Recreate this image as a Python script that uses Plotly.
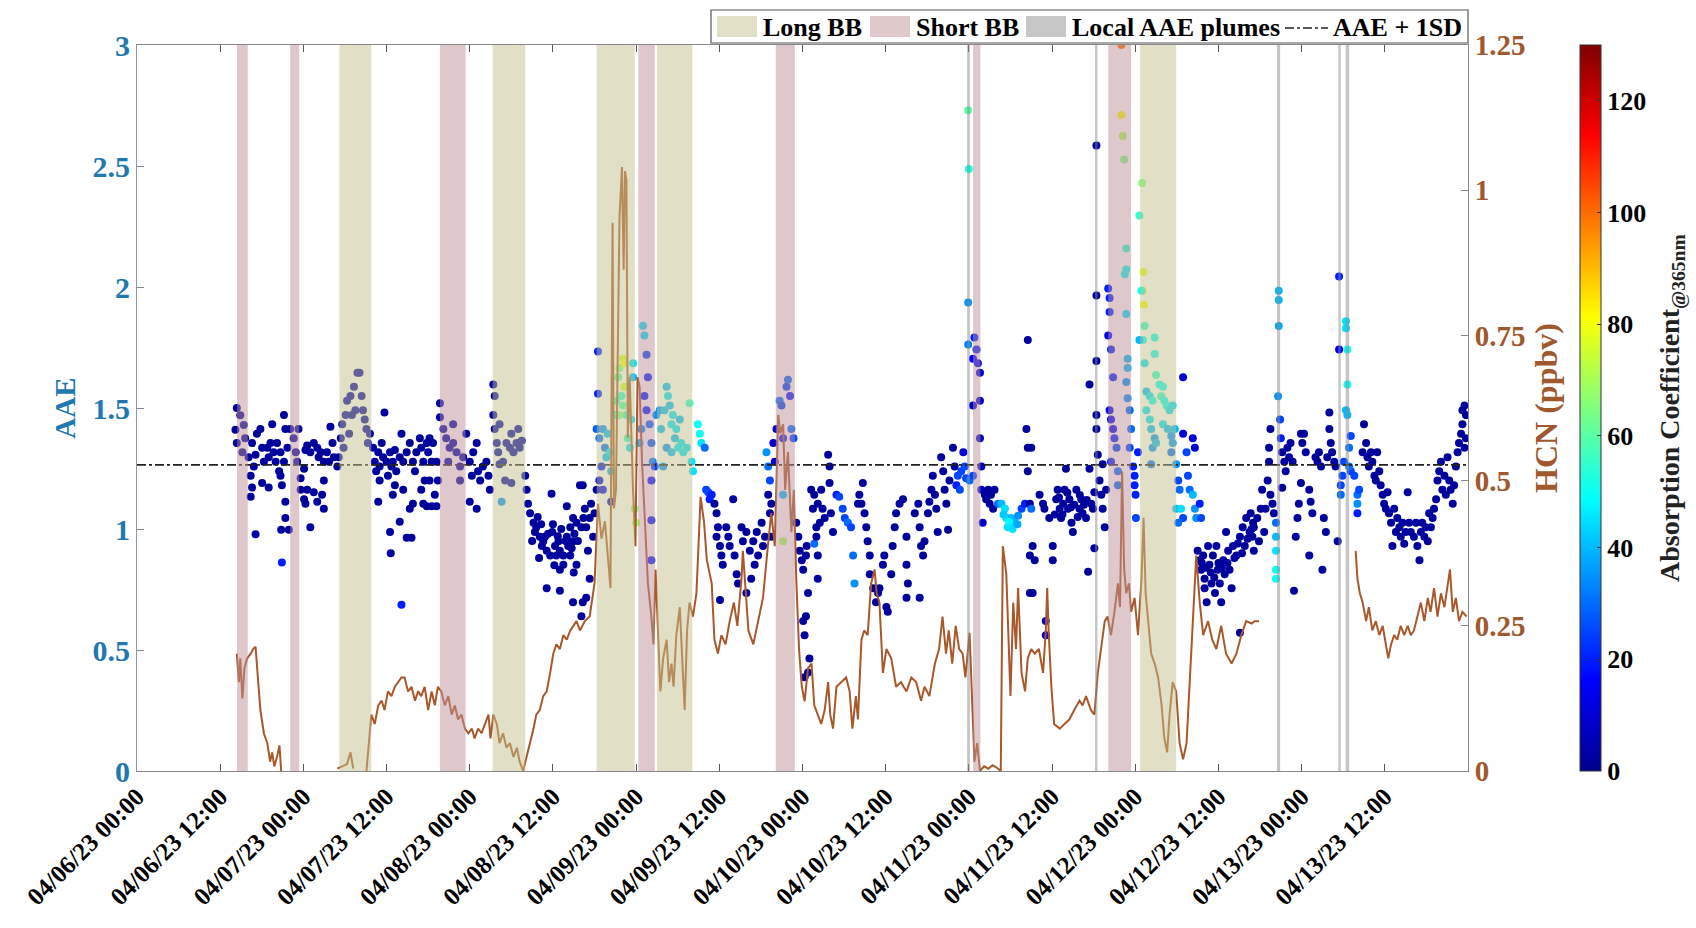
import pandas as pd
import plotly.graph_objects as go

START = pd.Timestamp("2023-04-06 00:00")

# ---------------- AAE scatter data (hours after 04/06/23 00:00, AAE, absorption coeff @365nm) -------------
hours_a = [14.4,14.9,14.2,15.4,14.4,15.6,15.2,16.1,16.6,16.85,
           16.4,17.1,17.3,17.8,18.05,18.3,18.8,19.0,19.25,19.5,
           19.7,20.0,20.2,20.5,20.7,21.2,21.4,21.7,21.2,20.9,
           16.6,18.05,19.0,16.4,17.1,21.4,21.4,20.8,21.9,20.9,
           20.7,22.1,22.6,22.9,23.1,23.3,23.6,24.1,24.3,24.55,
           25.0,25.5,26.0,26.2,26.5,26.95,27.4,27.9,28.2,28.4,
           28.9,29.1,24.55,24.1,24.3,25.5,26.0,26.7,26.95,25.0,
           23.6,26.95,27.7,29.4,29.6,30.1,30.3,30.8,31.3,31.8,
           31.5,29.8,31.0,30.6]
aae_a = [1.50,1.47,1.41,1.43,1.355,1.375,1.317,1.297,1.355,1.258,
         1.22,1.307,1.394,1.413,1.336,1.278,1.336,1.297,1.355,1.433,
         1.317,1.278,1.355,1.239,1.317,1.471,1.413,1.336,1.278,1.181,
         1.171,1.19,1.171,1.133,0.978,1.113,1.045,0.997,0.997,0.862,
         1.22,1.413,1.375,1.317,1.278,1.413,1.21,1.249,1.326,1.345,
         1.317,1.355,1.336,1.297,1.317,1.278,1.317,1.423,1.355,1.297,
         1.258,1.297,1.162,1.123,1.104,1.152,1.113,1.142,1.084,1.007,
         1.162,1.20,1.278,1.375,1.433,1.471,1.53,1.55,1.588,1.646,
         1.491,1.336,1.471,1.394]
abs_a = [3,3,2,2,2,2,2,2,2,2,
         2,2,2,2,2,2,2,2,2,2,
         2,2,2,2,2,2,2,2,2,2,
         2,2,2,2,3,2,2,2,2,20,
         2,2,2,2,2,2,2,2,2,2,
         2,2,2,2,2,2,2,2,2,2,
         2,2,2,2,2,2,2,2,2,2,
         2,2,2,3,3,3,3,3,3,3,
         3,3,3,3]

hours_b = [32.1,32.4,32.6,32.85,33.1,33.3,33.6,34.05,34.3,34.5,
           34.8,35.0,35.3,35.5,35.7,36.0,36.2,36.5,36.7,36.9,
           37.2,37.4,37.9,38.15,38.4,38.9,39.35,39.8,40.1,40.3,
           40.8,41.0,41.3,41.5,41.8,42.0,42.2,42.5,42.7,43.2,
           43.4,34.8,35.0,36.9,36.5,36.6,37.9,38.9,39.6,38.15,
           39.35,39.8,41.3,41.8,42.5,43.2,42.96,41.0,42.2,37.2,
           38.4,43.7,43.7,44.2,44.6,45.1,45.6,46.1,46.6,46.6,
           47.05,47.5,48.0,48.3,48.5,49.0,49.2,49.5,49.9,50.4,
           50.7,50.9,48.0,49.0,45.6,44.9,51.4,51.6,51.4,51.6,
           51.9,52.1,52.3,52.6,52.8,53.3,53.8,54.0,54.3,54.75,
           55.0,55.2,55.5,53.1,54.0,52.3,56.0,56.2,56.4,56.7,
           57.2,57.4,57.6,58.1,58.4,58.6,59.1,59.6,59.8,60.3,
           60.5,61.0,61.5,62.0,62.2,62.5,62.9,63.4,63.9,64.1,
           64.4,59.1,61.0,62.9,64.1,61.0,62.0,62.9,58.85,59.9,
           60.8,61.5,62.5,63.4,57.0,57.8,58.3,59.3,60.0,60.7,
           61.2,61.8,62.7,63.1,63.6,58.0,60.2,63.0]
aae_b = [1.646,1.55,1.491,1.452,1.413,1.355,1.394,1.336,1.278,1.239,
         1.317,1.258,1.355,1.297,1.481,1.278,1.22,1.317,1.258,1.278,
         1.326,1.239,1.297,1.394,1.278,1.317,1.355,1.278,1.239,1.317,
         1.375,1.336,1.278,1.20,1.355,1.317,1.375,1.278,1.355,1.278,
         1.20,1.113,1.20,1.142,0.988,0.90,1.03,0.964,0.964,0.687,
         1.084,1.104,1.104,1.094,1.094,1.094,1.142,1.162,1.20,1.181,
         1.162,1.52,1.462,1.413,1.375,1.336,1.355,1.317,1.258,1.20,
         1.297,1.394,1.278,1.22,1.317,1.355,1.239,1.20,1.258,1.278,
         1.22,1.162,1.113,1.084,1.433,1.278,1.597,1.55,1.471,1.413,
         1.355,1.317,1.433,1.113,1.278,1.355,1.336,1.394,1.317,1.355,
         1.413,1.336,1.365,1.20,1.19,1.268,1.22,1.162,1.104,1.065,
         1.026,0.988,1.007,0.968,0.93,0.949,0.91,0.89,1.146,0.93,
         0.89,0.91,0.89,0.968,0.93,0.89,0.949,1.026,1.181,1.007,
         1.045,0.755,0.745,0.697,0.639,0.832,1.094,1.045,0.968,0.988,
         0.949,0.852,1.007,0.852,0.95,1.05,1.02,0.98,1.02,0.97,
         1.0,0.95,0.92,0.98,0.95,0.88,0.85,0.82]
abs_b = [3,3,3,3,3,3,3,3,3,3,
         2,2,2,2,2,2,2,2,2,2,
         2,2,2,2,2,2,2,2,2,2,
         2,2,2,2,2,2,2,2,2,2,
         2,2,2,2,2,2,2,2,2,20,
         2,2,2,2,2,2,2,2,2,2,
         2,3,3,3,3,3,3,3,3,3,
         3,3,2,2,2,2,2,2,2,2,
         2,2,2,2,3,3,3,3,3,3,
         3,3,3,35,3,3,3,3,3,3,
         3,3,3,3,3,3,2,2,2,2,
         2,2,2,2,2,2,2,2,2,2,
         2,2,2,2,2,2,2,2,2,2,
         2,2,2,2,2,2,2,2,2,2,
         2,2,2,2,2,2,2,2,2,2,
         2,2,2,2,2,2,2,2]

hours_c = [64.3,64.6,64.8,65.3,65.5,65.8,65.05,65.3,64.8,64.3,
           66.0,66.3,66.5,66.5,66.3,66.7,67.2,67.5,67.0,67.7,
           67.9,68.2,68.4,67.2,66.7,68.4,68.9,69.1,69.4,69.6,
           70.1,70.3,69.9,70.1,70.3,70.6,69.6,70.8,71.1,71.3,
           71.55,71.55,71.8,72.0,73.0,73.2,73.5,73.7,73.2,73.5,
           73.95,74.2,74.4,74.2,74.2,74.2,72.5,72.75,74.9,75.4,
           75.6,76.1,76.4,76.6,76.85,77.1,77.3,77.6,77.8,78.3,
           78.5,78.8,79.3,79.7,80.0,80.2,75.9,76.4,74.7,77.1,
           78.05,80.9,81.2,81.4,81.9,82.1,82.4,82.9,82.6,83.3,
           83.6,83.8,83.6,84.1,84.3,84.5,84.1,85.0,85.3,85.5,
           86.0,86.2,86.5,86.7,87.2,87.4,87.9,87.9,88.4,88.6,
           88.9,89.1,89.4,89.6,90.1,90.3,90.6,90.8,91.05,91.3,
           91.3,91.5,91.8,92.0,92.25,92.7,92.97,93.2,93.7,93.9,
           94.2,94.4,94.7,93.2,93.2,95.1,95.4,95.6,95.9,96.1,
           96.1,96.3,96.3,96.6,91.05,91.5]
aae_c = [1.181,1.084,1.007,1.045,1.104,0.968,0.91,0.794,0.716,0.697,
         1.065,1.162,1.733,1.559,1.413,1.375,1.413,1.336,1.258,1.297,
         1.394,1.317,1.239,1.162,1.20,1.113,1.471,1.53,1.627,1.665,
         1.704,1.685,1.55,1.51,1.588,1.471,1.471,1.375,1.336,1.452,
         1.685,1.627,1.084,1.026,1.84,1.80,1.72,1.627,1.55,1.491,
         1.433,1.355,1.278,1.20,1.036,0.871,1.355,1.413,1.471,1.491,
         1.413,1.491,1.588,1.55,1.51,1.433,1.471,1.375,1.413,1.452,
         1.355,1.317,1.336,1.52,1.278,1.239,1.258,1.336,1.258,1.317,
         1.336,1.433,1.394,1.355,1.336,1.162,1.152,1.142,1.123,1.104,
         1.065,1.007,0.968,0.93,0.89,0.852,0.707,1.007,0.968,0.93,
         1.123,0.89,0.813,0.775,1.007,0.949,0.988,0.736,0.91,0.794,
         0.949,0.852,0.988,0.89,1.026,0.93,0.968,1.317,1.258,1.20,
         1.065,0.968,1.355,1.278,1.413,1.53,1.51,1.375,1.588,1.617,
         1.55,1.413,1.375,1.142,0.949,1.026,0.968,0.91,0.871,0.832,
         0.62,0.561,0.387,0.93,1.142,1.104]
abs_c = [2,2,2,2,2,2,2,2,2,2,
         2,2,20,20,28,30,35,30,20,40,
         40,45,40,15,10,10,50,55,60,65,
         75,80,55,60,75,55,65,55,45,45,
         45,40,65,70,45,45,25,20,20,20,
         30,30,35,20,20,20,40,35,35,35,
         40,40,40,45,40,45,45,40,45,40,
         45,45,45,55,45,45,35,35,25,40,
         45,50,50,45,30,25,25,20,20,2,
         2,2,2,2,2,2,2,2,2,2,
         2,2,2,2,2,2,2,2,2,2,
         2,2,2,2,2,2,2,35,30,25,
         2,2,10,10,10,30,25,20,25,30,
         20,30,25,40,70,2,2,2,2,2,
         2,2,2,2,2,2]

hours_d = [96.5,96.8,96.5,97.0,96.8,97.25,97.7,97.5,97.7,98.2,
           98.5,98.0,98.7,98.9,99.2,99.7,99.9,99.9,100.1,100.4,
           98.2,98.2,98.0,100.9,101.3,101.8,102.1,102.55,103.0,103.3,
           103.5,104.0,104.2,104.5,104.7,104.95,105.2,105.4,105.7,105.7,
           106.2,106.6,106.9,107.1,107.6,107.8,108.1,108.3,108.8,109.0,
           109.3,109.5,110.0,110.5,111.0,111.0,111.0,111.2,112.2,112.7,
           112.9,113.1,112.9,113.4,113.6,114.1,114.3,114.6,114.8,115.1,
           115.3,115.5,116.0,116.3,116.5,116.75,117.0,117.2,117.7,117.95,
           118.2,118.4,118.7,118.9,119.2,119.4,119.6,119.9,119.9,119.9,
           120.0,120.1,120.6,120.8,121.1,120.6,121.3,121.6,120.6,121.6,
           121.6,121.8,121.8,122.0,122.3,122.5,122.8,123.0,123.2,123.5,
           123.7,124.2,124.7,125.2,125.4,125.6,126.1,126.6,127.1,127.6,
           128.1,128.5,128.3,128.5,128.5,128.8,128.8,128.8,125.0,125.8,
           126.3,127.0]
aae_d = [0.891,0.736,0.639,0.465,0.407,1.162,1.142,1.084,0.939,1.104,
         1.026,1.007,1.162,1.084,1.045,1.307,1.258,1.19,1.065,0.988,
         0.794,0.89,0.968,1.142,1.133,1.084,1.045,1.026,1.007,0.89,
         0.775,1.104,1.142,1.104,1.19,1.065,1.007,0.949,0.89,0.813,
         0.755,0.697,0.736,0.755,0.852,0.89,0.678,0.658,0.813,0.93,
         1.007,1.065,1.104,1.123,0.968,0.852,0.716,0.775,1.065,1.104,
         1.007,0.93,0.716,0.89,0.949,1.065,1.113,1.162,1.22,1.142,
         1.084,0.988,1.297,1.239,1.162,1.104,0.997,1.20,1.336,1.258,
         1.181,1.22,1.162,1.239,1.317,1.258,1.21,1.936,1.762,2.73,
         2.488,1.20,1.22,1.791,1.742,1.704,1.685,1.646,1.51,1.53,
         1.375,1.258,1.162,1.026,1.142,1.123,1.162,1.104,1.142,1.084,
         1.162,1.104,1.104,1.084,1.045,1.007,1.045,1.026,1.055,1.084,
         1.104,1.781,1.413,1.336,1.239,1.104,0.89,0.736,1.06,1.03,
         1.0,1.02]
abs_d = [2,2,2,2,2,2,2,2,30,2,
         2,2,2,2,2,2,2,2,2,2,
         2,2,2,20,25,25,25,30,25,30,
         35,2,2,2,2,2,2,2,2,2,
         2,2,2,2,2,2,2,2,2,2,
         2,2,2,2,2,2,2,2,2,2,
         2,2,2,2,2,2,2,2,2,2,
         2,2,2,2,2,2,2,2,2,2,
         20,25,25,25,10,25,25,35,33,60,
         52,30,25,20,20,15,15,10,10,8,
         8,8,8,8,2,2,2,2,2,2,
         2,30,40,45,45,45,40,40,35,25,
         20,2,2,2,2,2,2,2,42,48,
         45,38]

hours_e = [129.0,129.0,129.2,129.5,129.2,130.2,130.7,130.9,131.1,131.1,
           131.6,132.1,132.1,132.6,132.8,133.1,133.3,133.6,133.8,134.0,
           134.3,134.5,134.8,135.0,135.5,135.96,136.2,136.4,136.9,137.2,
           137.4,137.4,137.65,137.9,138.1,138.1,138.4,138.4,138.4,138.4,
           138.4,138.6,138.85,139.1,139.3,139.3,139.6,139.8,132.4,133.0,
           133.5,134.2,134.7,135.2,135.7,136.0,136.6,137.0,140.1,140.3,
           140.3,140.1,140.5,140.8,140.3,140.5,140.8,141.0,141.3,140.5,
           141.5,141.5,142.0,142.2,142.4,142.0,142.7,142.7,142.5,142.7,
           142.9,142.9,142.7,142.9,143.2,143.4,143.2,143.7,143.9,143.9,
           144.05,144.1,144.4,145.0,144.6,145.2,145.1,145.25,144.9,145.35,
           145.1,144.6,146.8,145.35,146.8,147.0,147.5,148.0,145.6,146.1,
           146.5,147.75,148.2,148.5,148.95,149.4,145.6,146.1,146.3,146.8,
           146.5,147.0,148.0,148.7,149.2,149.4,149.7,149.2,146.3,149.9,
           150.2,150.4,149.9,150.6,150.9,150.2,150.9,150.9,151.4,151.6,
           151.85,152.3,152.3,152.6,152.6,152.8,153.3,153.5,153.0,153.3,
           153.5,153.8,154.0,154.3,154.5,154.7,155.0,155.2,155.7,155.9,
           156.2,156.4,156.7,156.9,157.1,157.4,157.6,157.9,158.1,158.6,
           159.1,159.1,159.5,159.8,160.0,160.5,161.0,154.0,155.5,153.6,
           154.2,154.9,155.4,156.0,156.5,157.3,158.3,158.8,159.4,160.2,
           160.8]
aae_e = [1.336,1.084,0.93,0.871,0.736,1.142,1.104,1.084,0.62,0.561,
         1.045,0.93,0.871,1.123,1.162,1.084,1.045,1.104,1.162,1.249,
         1.084,1.123,1.026,0.988,1.162,1.084,1.123,1.065,1.045,0.823,
         1.249,1.597,1.104,1.084,1.152,0.92,2.585,1.965,1.694,1.471,
         1.413,1.307,1.20,1.142,1.084,1.268,1.007,1.162,1.06,1.13,
         1.06,1.15,1.09,1.10,1.05,1.14,1.10,1.12,1.994,1.955,
         1.897,1.80,1.742,1.627,1.491,1.452,1.413,1.375,1.336,1.278,
         1.239,1.181,2.711,2.624,2.527,3.0,2.159,2.072,2.053,1.888,
         1.704,1.665,1.607,1.54,1.491,1.413,1.336,1.258,1.22,1.181,
         1.142,1.045,1.317,2.43,2.295,2.062,1.985,1.927,1.985,1.839,
         1.781,1.781,1.791,1.685,1.723,1.636,1.597,1.588,1.568,1.549,
         1.53,1.549,1.53,1.51,1.491,1.51,1.491,1.452,1.413,1.375,
         1.336,1.355,1.433,1.413,1.384,1.355,1.413,1.317,1.268,1.268,
         1.20,1.162,1.084,1.084,1.045,1.026,1.627,1.394,1.317,1.22,
         1.162,1.142,1.375,1.336,1.084,1.045,1.104,1.045,0.91,0.871,
         0.832,0.89,0.794,0.697,0.93,0.852,0.775,0.89,0.93,0.832,
         0.775,0.697,0.871,0.813,0.988,0.91,0.832,0.755,0.93,0.89,
         0.968,0.571,1.007,0.93,1.045,0.988,1.026,0.755,0.736,0.86,
         0.84,0.82,0.80,0.86,0.84,0.86,0.88,0.94,0.90,0.96,
         1.0]
abs_e = [2,30,2,2,2,2,2,2,10,10,
         2,2,2,2,2,2,2,2,2,2,
         2,2,2,2,2,2,2,2,2,2,
         2,2,2,2,2,2,2,2,2,2,
         2,2,2,2,2,2,2,2,2,2,
         2,2,2,2,2,2,2,2,20,20,
         20,15,20,20,15,15,15,20,25,20,
         30,30,80,70,65,100,55,50,50,45,
         40,40,35,35,30,30,25,20,20,20,
         20,25,20,65,55,78,80,80,50,55,
         50,40,50,45,50,55,50,50,40,45,
         50,55,50,50,45,45,45,45,40,35,
         35,40,45,40,35,35,40,30,30,35,
         25,30,40,45,25,30,10,12,25,25,
         30,40,12,10,35,35,20,25,2,2,
         2,2,2,2,2,2,2,2,2,2,
         2,2,2,2,2,2,2,2,2,2,
         2,2,2,2,2,2,2,2,2,2,
         2,2,2,2,2,2,2,2,2,2,
         2]

hours_f = [160.65,160.9,161.1,161.1,161.6,161.85,162.1,162.3,162.6,162.8,
           163.1,163.3,163.3,163.5,163.8,164.0,163.5,164.3,164.3,164.3,
           164.3,164.3,164.7,164.7,164.7,164.6,164.9,165.0,165.2,165.2,
           165.5,165.7,165.95,166.2,166.4,166.7,166.9,167.15,167.4,167.6,
           167.9,167.9,168.1,168.35,168.6,169.1,169.3,169.55,169.1,170.0,
           170.3,170.5,170.8,171.0,171.2,171.5,171.7,172.0,172.0,172.2,
           172.4,172.7,172.9,173.2,173.4,173.4,173.65,173.65,173.9,174.1,
           174.4,174.4,174.6,174.6,174.4,174.6,174.85,175.1,175.1,175.6,
           176.05,176.05,176.05,176.3,174.85,176.8,177.0,177.3,177.5,177.7,
           178.0,178.2,178.5,178.7,178.9,179.2,179.4,179.7,179.9,180.15,
           180.4,180.6,180.9,181.1,181.35,181.6,181.8,182.1,182.3,182.55,
           182.8,183.0,183.3,183.5,183.75,184.2,184.5,184.7,185.0,185.2,
           185.4,185.7,185.9,186.2,186.4,186.65,186.9,187.1,187.4,187.6,
           187.85,188.1,188.3,188.6,188.8,189.05,189.3,189.5,189.8,190.0,
           190.25,190.5,190.7,191.0,191.2,191.2,191.5,191.7,191.7,191.5]
aae_f = [1.065,0.968,1.007,0.91,1.045,0.949,1.084,1.162,0.988,1.084,
         1.20,1.336,1.278,1.142,1.104,1.065,1.413,1.026,0.968,0.91,
         0.832,0.794,1.985,1.946,1.839,1.549,1.452,1.375,1.317,1.17,
         1.278,1.239,1.336,1.297,1.355,1.278,0.745,0.968,1.045,1.104,
         1.19,1.394,1.355,1.394,1.317,1.162,1.113,1.065,0.89,1.297,
         1.278,1.317,1.258,0.832,1.045,0.988,1.297,1.413,1.481,1.355,
         1.317,1.278,1.258,0.949,2.043,1.742,1.181,1.142,1.22,1.278,
         1.858,1.83,1.742,1.597,1.491,1.471,1.336,1.384,1.239,1.22,
         1.142,1.104,1.065,1.162,1.258,1.317,1.433,1.355,1.297,1.258,
         1.317,1.278,1.22,1.20,1.317,1.239,1.181,1.142,1.104,1.084,
         1.152,1.065,1.026,0.93,1.084,0.988,1.045,1.007,0.968,1.026,
         0.939,0.988,1.152,1.026,0.988,0.968,1.026,0.93,0.871,0.988,
         1.026,0.968,1.007,0.949,1.065,1.007,1.045,1.084,1.123,1.20,
         1.239,1.278,1.162,1.22,1.142,1.297,1.20,1.162,1.104,1.181,
         1.258,1.317,1.355,1.394,1.433,1.491,1.51,1.471,1.375,1.336]
abs_f = [2,2,2,2,2,2,2,2,2,2,
         2,2,2,2,2,2,2,30,40,45,
         50,50,40,40,38,35,25,20,2,2,
         2,2,2,2,2,2,2,2,2,2,
         2,2,2,2,2,2,2,2,2,2,
         2,2,2,2,2,2,2,2,2,2,
         2,2,2,2,20,15,25,30,25,25,
         45,45,50,50,40,40,30,25,25,25,
         30,35,20,25,30,2,2,2,2,2,
         2,2,2,2,2,2,2,2,2,2,
         2,2,2,2,2,2,2,2,2,2,
         2,2,2,2,2,2,2,2,2,2,
         2,2,2,2,2,2,2,2,2,2,
         2,2,2,2,2,2,2,2,2,2,
         2,2,2,2,2,2,2,2,2,2]

# ---------------- HCN (ppbv) segments -------------
hcn_hours_1 = [14.4,14.7,14.9,15.2,15.5,15.9,16.4,16.75,17.1,17.4,17.8,18.3,18.8,19.2,19.5,19.8,20.2,20.55,20.8]
hcn_ppbv_1 = [0.202,0.153,0.194,0.125,0.177,0.194,0.202,0.210,0.214,0.161,0.105,0.065,0.048,0.016,0.032,0.008,0.024,0.044,0.0]
hcn_hours_2 = [28.9,29.6,30.3,30.8,31.2]
hcn_ppbv_2 = [0.004,0.008,0.012,0.032,0.004]
hcn_hours_3 = [33.1,33.8,34.3,34.8,35.3,35.7,36.2,36.7,37.2,37.7,
               38.15,38.6,39.1,39.6,40.1,40.55,41.0,41.5,42.0,42.5,
               42.96,43.4,43.9,44.4,44.9,45.4,45.85,46.3,46.8,47.3,
               47.8,48.3,48.7,49.2,49.7,50.2,50.7,51.0,51.4,51.9,
               52.3,52.8,53.3,53.8,54.3,54.8,55.2,55.7,56.2,56.7,
               57.2,57.6,58.1,58.6,59.1,59.6,60.05,60.5,61.0,61.5,
               62.0,62.5,62.9,63.4,63.9,64.6,65.3,66.0,66.5,67.0,
               67.5,67.9,68.3,68.6,68.8,69.1,69.4,69.6,69.96,70.2,
               70.4,70.6,70.8,71.07,71.55,71.9,72.2,72.5,72.85,73.2,
               73.7,74.2,74.5,74.8,75.2,75.5,75.9,76.4,76.75,77.1,
               77.4,77.8,78.3,78.7,79.0,79.35,79.7,80.2,80.7,81.3,
               81.8,82.2,82.9,83.3,83.8,84.3,84.9,85.5,86.1,86.6,
               87.2,87.4,87.8,88.2,88.9,89.6,90.3,91.0,91.5,92.0,
               92.5,92.8,93.2,93.5,93.9,94.4,94.75,95.1,95.5,95.9,
               96.3,96.8,97.3,97.7,98.2,98.7,99.2,99.7,100.0,100.4,
               100.9,101.6,102.3,102.8,103.2,103.7,104.0,104.5,104.9,105.4,
               105.9,106.4,106.7,107.1,107.6,108.1,108.8,109.5,110.2,111.0,
               111.7,112.4,113.1,113.6,114.3,115.1,115.7,116.2,116.7,117.1,
               117.6,118.1,118.6,119.1,119.5,120.1,120.45,120.8,121.2,121.6,
               122.2,122.8,123.4,124.0,124.6,124.9,125.4,125.65,126.0,126.4,
               126.8,127.1,127.6,128.1,128.5,129.0,129.5,130.1,130.7,131.1,
               131.3,131.5,131.9,132.3,133.1,133.8,134.5,135.2,135.96,136.4,
               136.9,137.6,138.1,138.6,139.1,139.6,140.0,140.5,141.0,141.5,
               141.8,142.1,142.4,142.7,143.1,143.4,143.9,144.4,144.9,145.2,
               145.5,145.8,146.3,146.8,147.3,147.8,148.2,148.6,148.95,149.4,
               149.9,150.4,150.9,151.4,151.9,152.4,152.8,153.3,153.8,154.5,
               155.1,155.7,156.4,157.1,157.9,158.6,159.3,160.0,160.8,161.2,
               161.85]
hcn_ppbv_3 = [0.0,0.097,0.081,0.113,0.121,0.105,0.137,0.129,0.145,0.153,
              0.161,0.161,0.137,0.145,0.121,0.137,0.129,0.145,0.105,0.137,
              0.113,0.145,0.137,0.113,0.129,0.097,0.113,0.089,0.097,0.073,
              0.065,0.073,0.056,0.073,0.065,0.081,0.097,0.056,0.097,0.081,
              0.048,0.065,0.040,0.048,0.024,0.040,0.016,0.0,0.024,0.048,
              0.073,0.097,0.105,0.129,0.137,0.169,0.202,0.218,0.210,0.234,
              0.226,0.242,0.250,0.258,0.242,0.258,0.266,0.323,0.46,0.40,
              0.43,0.37,0.315,0.944,0.452,0.484,0.726,0.952,1.04,0.863,
              1.033,1.017,0.573,0.678,0.484,0.387,0.678,0.662,0.533,0.452,
              0.323,0.266,0.218,0.347,0.242,0.137,0.194,0.226,0.153,0.185,
              0.145,0.234,0.282,0.169,0.105,0.242,0.290,0.266,0.306,0.472,
              0.428,0.363,0.323,0.226,0.202,0.234,0.218,0.258,0.290,0.250,
              0.331,0.379,0.306,0.242,0.218,0.258,0.298,0.387,0.444,0.387,
              0.613,0.581,0.597,0.484,0.549,0.411,0.484,0.331,0.210,0.145,
              0.12,0.177,0.185,0.113,0.097,0.081,0.105,0.153,0.097,0.073,
              0.145,0.153,0.161,0.137,0.073,0.129,0.089,0.226,0.242,0.234,
              0.323,0.347,0.306,0.290,0.169,0.210,0.194,0.145,0.153,0.137,
              0.161,0.153,0.121,0.145,0.129,0.185,0.210,0.266,0.202,0.242,
              0.185,0.250,0.210,0.202,0.161,0.238,0.113,0.016,0.048,0.0,
              0.008,0.004,0.01,0.006,0.0,0.387,0.339,0.242,0.129,0.290,
              0.210,0.315,0.169,0.137,0.194,0.210,0.202,0.210,0.169,0.242,
              0.315,0.242,0.145,0.081,0.073,0.081,0.089,0.105,0.121,0.113,
              0.129,0.105,0.097,0.169,0.218,0.258,0.266,0.234,0.274,0.323,
              0.282,0.516,0.347,0.306,0.323,0.274,0.298,0.234,0.331,0.436,
              0.306,0.266,0.202,0.185,0.161,0.113,0.056,0.032,0.097,0.153,
              0.137,0.048,0.020,0.048,0.169,0.290,0.371,0.290,0.234,0.258,
              0.226,0.210,0.250,0.202,0.185,0.202,0.234,0.258,0.254,0.258,
              0.258]
hcn_hours_4 = [175.8,176.05,176.4,176.8,177.3,177.7,178.2,178.7,179.2,179.7,
               180.15,180.5,180.9,181.35,181.8,182.3,182.8,183.3,183.75,184.2,
               184.7,185.2,185.7,186.2,186.6,187.1,187.6,188.1,188.6,189.05,
               189.4,189.8,190.25,190.7,191.2,191.8]
hcn_ppbv_4 = [0.379,0.331,0.306,0.290,0.258,0.282,0.242,0.258,0.234,0.250,
              0.218,0.194,0.218,0.234,0.226,0.250,0.234,0.250,0.234,0.242,
              0.266,0.290,0.258,0.298,0.274,0.315,0.266,0.306,0.282,0.323,
              0.347,0.274,0.298,0.258,0.274,0.266]

# ---------------- Event periods (hours after start) -------------
long_bb_start = [29.2, 51.3, 66.3, 75.0, 144.7]
long_bb_end = [33.8, 56.0, 71.8, 80.1, 149.9]
short_bb_start = [14.44, 22.1, 43.7, 72.3, 92.15, 120.6, 140.1]
short_bb_end = [15.98, 23.4, 47.4, 74.7, 94.9, 121.66, 143.4]
local_start = [119.75, 138.2, 164.45, 173.3, 174.35]
local_end = [120.15, 138.55, 164.9, 173.65, 174.85]

aae_plus_1sd = 1.265
tick_hours = [0, 12, 24, 36, 48, 60, 72, 84, 96, 108, 120, 132, 144, 156, 168, 180]
x_end_hours = 192

aae_ticks = [0, 0.5, 1, 1.5, 2, 2.5, 3]
aae_ticktext = ["0", "0.5", "1", "1.5", "2", "2.5", "3"]
hcn_ticks = [0, 0.25, 0.5, 0.75, 1, 1.25]
hcn_ticktext = ["0", "0.25", "0.5", "0.75", "1", "1.25"]
cbar_ticks = [0, 20, 40, 60, 80, 100, 120]

# ---------------- assemble -------------
def to_time(hs):
    return [START + pd.Timedelta(hours=h) for h in hs]

groups = [(hours_a, aae_a, abs_a), (hours_b, aae_b, abs_b), (hours_c, aae_c, abs_c),
          (hours_d, aae_d, abs_d), (hours_e, aae_e, abs_e), (hours_f, aae_f, abs_f)]
pt_hours, pt_aae, pt_abs = [], [], []
for hs, av, cv in groups:
    assert len(hs) == len(av) == len(cv), (len(hs), len(av), len(cv))
    pt_hours += hs
    pt_aae += av
    pt_abs += cv

hcn_x, hcn_y = [], []
for hs, vs in [(hcn_hours_1, hcn_ppbv_1), (hcn_hours_2, hcn_ppbv_2),
               (hcn_hours_3, hcn_ppbv_3), (hcn_hours_4, hcn_ppbv_4)]:
    assert len(hs) == len(vs), (len(hs), len(vs))
    if hcn_x:
        hcn_x.append(None)
        hcn_y.append(None)
    hcn_x += to_time(hs)
    hcn_y += vs

FONT = "Liberation Serif"
BLUE = "#1f78b0"
BROWN = "#a0582f"
LINE_BROWN = "#a9582c"
JET = [[0, "rgb(0,0,143)"], [0.125, "rgb(0,0,255)"], [0.375, "rgb(0,255,255)"],
       [0.625, "rgb(255,255,0)"], [0.875, "rgb(255,0,0)"], [1, "rgb(128,0,0)"]]

L, T, PW, PH = 137, 45, 1331, 726

def px_x(p):
    return (p - L) / PW

def px_y(p):
    return (T + PH - p) / PH

fig = go.Figure()
fig.add_trace(go.Scatter(
    x=to_time(pt_hours), y=pt_aae, mode="markers",
    marker=dict(size=8, color=pt_abs, colorscale=JET, cmin=0, cmax=130, line=dict(width=0),
                colorbar=dict(x=px_x(1580), xanchor="left", y=0.5, yanchor="middle",
                              len=1, lenmode="fraction", thickness=21, thicknessmode="pixels",
                              xpad=0, ypad=0, outlinewidth=1, outlinecolor="#333",
                              tickvals=cbar_ticks, ticks="inside", ticklen=4, tickcolor="#333",
                              tickfont=dict(family=FONT, size=26, color="black", weight="bold"))),
    showlegend=False, hoverinfo="skip"))
fig.add_trace(go.Scatter(x=hcn_x, y=hcn_y, mode="lines", yaxis="y2", connectgaps=False,
                         line=dict(color=LINE_BROWN, width=2), showlegend=False, hoverinfo="skip"))
fig.add_trace(go.Scatter(x=to_time([0, x_end_hours]), y=[aae_plus_1sd, aae_plus_1sd], mode="lines",
                         line=dict(color="#222222", width=1.6, dash="dashdot"),
                         showlegend=False, hoverinfo="skip"))

shapes = []
def add_bands(starts, ends, color, opacity):
    for s, e in zip(starts, ends):
        shapes.append(dict(type="rect", xref="x", yref="paper",
                           x0=START + pd.Timedelta(hours=s), x1=START + pd.Timedelta(hours=e),
                           y0=0, y1=1, fillcolor=color, opacity=opacity,
                           line=dict(width=0), layer="above"))

add_bands(long_bb_start, long_bb_end, "rgb(196,192,140)", 0.5)
add_bands(short_bb_start, short_bb_end, "rgb(190,146,151)", 0.5)
add_bands(local_start, local_end, "rgb(140,140,140)", 0.5)

# legend (manual, above plot)
shapes.append(dict(type="rect", xref="paper", yref="paper", x0=px_x(711), x1=px_x(1468),
                   y0=px_y(43), y1=px_y(10), fillcolor="white", line=dict(color="#555", width=1.2),
                   layer="above"))
legend_items = [("Long BB", 717, "rgb(226,224,198)"),
                ("Short BB", 870, "rgb(223,201,203)"),
                ("Local AAE plumes", 1026, "rgb(198,198,198)")]
annotations = []
for label, x0, col in legend_items:
    shapes.append(dict(type="rect", xref="paper", yref="paper", x0=px_x(x0), x1=px_x(x0 + 40),
                       y0=px_y(37), y1=px_y(16), fillcolor=col, line=dict(width=0), layer="above"))
    annotations.append(dict(xref="paper", yref="paper", x=px_x(x0 + 44), y=px_y(27), text=label,
                            showarrow=False, xanchor="left", yanchor="middle",
                            font=dict(family=FONT, size=26, color="black", weight="bold")))
shapes.append(dict(type="line", xref="paper", yref="paper", x0=px_x(1285), x1=px_x(1328),
                   y0=px_y(28), y1=px_y(28), line=dict(color="#222", width=1.6, dash="dashdot"),
                   layer="above"))
annotations.append(dict(xref="paper", yref="paper", x=px_x(1331), y=px_y(27), text="AAE + 1SD",
                        showarrow=False, xanchor="left", yanchor="middle",
                        font=dict(family=FONT, size=26, color="black", weight="bold")))
# colorbar title
annotations.append(dict(xref="paper", yref="paper", x=px_x(1671), y=0.5, textangle=-90,
                        text="Absorption Coefficient<sub>@365nm</sub>", showarrow=False,
                        xanchor="center", yanchor="middle",
                        font=dict(family=FONT, size=28, color="#222", weight="bold")))

fig.update_layout(
    width=1696, height=928, autosize=False,
    margin=dict(l=L, r=1696 - L - PW, t=T, b=928 - T - PH, autoexpand=False),
    paper_bgcolor="white", plot_bgcolor="white",
    font=dict(family=FONT, size=24, color="black"),
    showlegend=False, shapes=shapes, annotations=annotations,
    xaxis=dict(type="date", range=to_time([0, x_end_hours]), tickvals=to_time(tick_hours),
               tickformat="%m/%d/%y %H:%M", tickangle=-45,
               tickfont=dict(family=FONT, size=25, color="black", weight="bold"),
               ticks="inside", ticklen=7, tickcolor="#555", showline=True, linecolor="#888",
               linewidth=1, mirror="ticks", showgrid=False, zeroline=False),
    yaxis=dict(range=[0, 3], tickvals=aae_ticks, ticktext=aae_ticktext,
               tickfont=dict(family=FONT, size=30, color=BLUE, weight="bold"),
               ticks="inside", ticklen=7, tickcolor="#888", showline=True, linecolor="#8a98a6",
               showgrid=False, zeroline=False,
               title=dict(text="AAE", font=dict(family=FONT, size=29, color=BLUE, weight="bold"),
                          standoff=8)),
    yaxis2=dict(overlaying="y", side="right", range=[0, 1.25], tickvals=hcn_ticks, ticktext=hcn_ticktext,
                tickfont=dict(family=FONT, size=29, color=BROWN, weight="bold"),
                ticks="inside", ticklen=7, tickcolor="#888", showline=True, linecolor="#888",
                showgrid=False, zeroline=False,
                title=dict(text="HCN (ppbv)", font=dict(family=FONT, size=32, color=BROWN, weight="bold"),
                           standoff=10)),
)

fig.write_html("out.html")
